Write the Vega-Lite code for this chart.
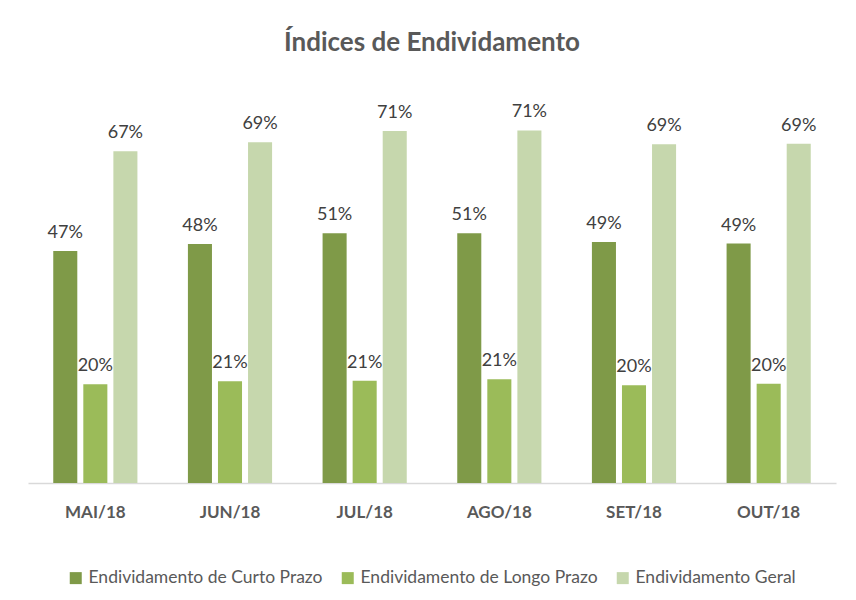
{
  "$schema": "https://vega.github.io/schema/vega-lite/v6.json",
  "width": 808,
  "height": 395,
  "autosize": {"type": "none"},
  "padding": {"left": 28, "top": 88, "right": 20, "bottom": 117},
  "background": "white",
  "title": {"text": "Índices de Endividamento", "fontSize": 26, "font": "Lato", "fontWeight": "bold", "color": "#595959", "offset": 32, "anchor": "middle"},
  "data": {"values": [
    {"mes": "MAI/18", "serie": "Endividamento de Curto Prazo", "valor": 0.470},
    {"mes": "MAI/18", "serie": "Endividamento de Longo Prazo", "valor": 0.200},
    {"mes": "MAI/18", "serie": "Endividamento Geral", "valor": 0.672},
    {"mes": "JUN/18", "serie": "Endividamento de Curto Prazo", "valor": 0.484},
    {"mes": "JUN/18", "serie": "Endividamento de Longo Prazo", "valor": 0.206},
    {"mes": "JUN/18", "serie": "Endividamento Geral", "valor": 0.690},
    {"mes": "JUL/18", "serie": "Endividamento de Curto Prazo", "valor": 0.506},
    {"mes": "JUL/18", "serie": "Endividamento de Longo Prazo", "valor": 0.207},
    {"mes": "JUL/18", "serie": "Endividamento Geral", "valor": 0.713},
    {"mes": "AGO/18", "serie": "Endividamento de Curto Prazo", "valor": 0.506},
    {"mes": "AGO/18", "serie": "Endividamento de Longo Prazo", "valor": 0.210},
    {"mes": "AGO/18", "serie": "Endividamento Geral", "valor": 0.714},
    {"mes": "SET/18", "serie": "Endividamento de Curto Prazo", "valor": 0.488},
    {"mes": "SET/18", "serie": "Endividamento de Longo Prazo", "valor": 0.198},
    {"mes": "SET/18", "serie": "Endividamento Geral", "valor": 0.686},
    {"mes": "OUT/18", "serie": "Endividamento de Curto Prazo", "valor": 0.485},
    {"mes": "OUT/18", "serie": "Endividamento de Longo Prazo", "valor": 0.201},
    {"mes": "OUT/18", "serie": "Endividamento Geral", "valor": 0.687}
  ]},
  "encoding": {
    "x": {"field": "mes", "type": "nominal", "sort": ["MAI/18", "JUN/18", "JUL/18", "AGO/18", "SET/18", "OUT/18"],
      "scale": {"paddingInner": 0.375, "paddingOuter": 0.1875},
      "axis": {"title": null, "labelAngle": 0, "ticks": false, "domainColor": "#d9d9d9", "domainWidth": 1.5, "labelFont": "Lato", "labelFontSize": 17, "labelFontWeight": "bold", "labelColor": "#595959", "labelPadding": 21}},
    "xOffset": {"field": "serie", "type": "nominal", "sort": ["Endividamento de Curto Prazo", "Endividamento de Longo Prazo", "Endividamento Geral"], "scale": {"paddingInner": 0.2, "paddingOuter": 0}},
    "y": {"field": "valor", "type": "quantitative", "scale": {"domain": [0, 0.8]}, "axis": null}
  },
  "layer": [
    {"mark": {"type": "bar"},
     "encoding": {"color": {"field": "serie", "type": "nominal", "sort": ["Endividamento de Curto Prazo", "Endividamento de Longo Prazo", "Endividamento Geral"],
       "scale": {"range": ["#7f9a48", "#9bbb59", "#c6d7ad"]},
       "legend": {"title": null, "orient": "none", "legendX": 39, "legendY": 481, "direction": "horizontal", "symbolType": "square", "symbolSize": 144, "symbolStrokeWidth": 0, "labelFont": "Lato", "labelFontSize": 17.5, "labelColor": "#595959", "labelLimit": 400, "columnPadding": 16, "labelOffset": 4}}}},
    {"mark": {"type": "text", "baseline": "alphabetic", "dy": -13, "fontSize": 18, "font": "Lato", "color": "#404040"},
     "encoding": {"text": {"field": "valor", "type": "quantitative", "format": ".0%"}}}
  ],
  "config": {"view": {"stroke": null}}
}
